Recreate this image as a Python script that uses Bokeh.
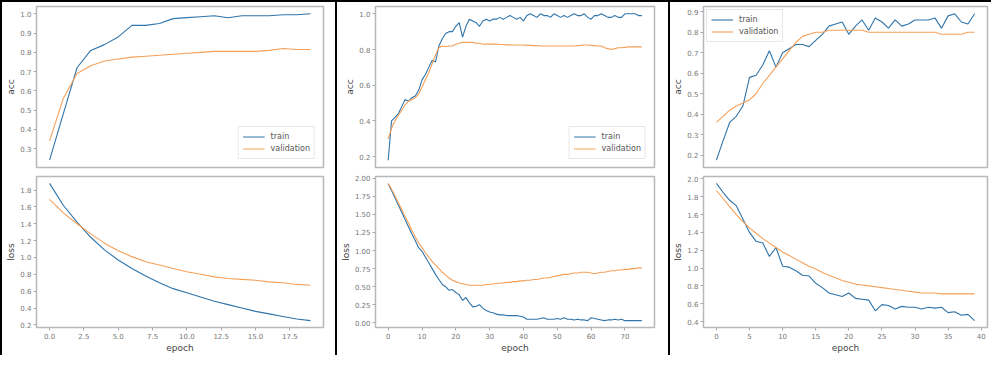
from bokeh.plotting import figure
from bokeh.layouts import row, column
from bokeh.models import Div, Range1d, FixedTicker, PrintfTickFormatter
from bokeh.embed import file_html
from bokeh.resources import INLINE

# ---------------- data ----------------
# run 1 (20 epochs)
acc1_train = [0.24, 0.48, 0.72, 0.81, 0.84, 0.88, 0.94, 0.94, 0.95, 0.975, 0.98, 0.985,
              0.99, 0.98, 0.99, 0.99, 0.99, 0.995, 0.995, 1.0]
acc1_val = [0.34, 0.56, 0.69, 0.73, 0.755, 0.765, 0.775, 0.78, 0.785, 0.79, 0.795, 0.80,
            0.805, 0.805, 0.805, 0.805, 0.81, 0.82, 0.815, 0.815]
loss1_train = [1.88, 1.62, 1.42, 1.24, 1.09, 0.97, 0.87, 0.78, 0.70, 0.63, 0.58, 0.53,
               0.48, 0.44, 0.40, 0.36, 0.33, 0.30, 0.27, 0.25]
loss1_val = [1.69, 1.53, 1.40, 1.28, 1.17, 1.08, 1.01, 0.95, 0.91, 0.87, 0.83, 0.80,
             0.77, 0.75, 0.74, 0.73, 0.71, 0.70, 0.68, 0.67]

# run 2 (76 epochs)
acc2_train = [0.18, 0.40, 0.42, 0.44, 0.48, 0.52, 0.51, 0.53, 0.54, 0.57, 0.63, 0.66,
              0.70, 0.74, 0.73, 0.82, 0.86, 0.89, 0.90, 0.90, 0.93, 0.95, 0.87, 0.93,
              0.97, 0.96, 0.95, 0.93, 0.96, 0.97, 0.96, 0.97, 0.97, 0.98, 0.97, 0.98,
              0.99, 0.98, 0.97, 0.98, 0.96, 0.99, 1.00, 0.99, 0.98, 1.00, 0.99, 0.99,
              0.98, 1.00, 0.99, 0.98, 0.99, 0.98, 0.99, 1.00, 0.99, 0.99, 1.00, 0.98,
              0.97, 0.99, 0.99, 1.00, 0.99, 0.98, 0.98, 0.99, 0.98, 0.98, 1.00, 1.00,
              1.00, 1.00, 0.99, 0.99]
acc2_val = [0.30, 0.36, 0.40, 0.43, 0.46, 0.49, 0.51, 0.52, 0.53, 0.55, 0.59, 0.63,
            0.67, 0.72, 0.77, 0.81, 0.82, 0.815, 0.82, 0.82, 0.83, 0.835, 0.84, 0.84,
            0.84, 0.84, 0.835, 0.835, 0.83, 0.83, 0.83, 0.83, 0.83, 0.828, 0.828, 0.826,
            0.826, 0.825, 0.825, 0.825, 0.825, 0.823, 0.823, 0.822, 0.822, 0.82, 0.82, 0.82,
            0.82, 0.82, 0.82, 0.82, 0.82, 0.82, 0.82, 0.82, 0.822, 0.823, 0.825, 0.825,
            0.823, 0.822, 0.82, 0.82, 0.81, 0.805, 0.80, 0.805, 0.81, 0.81, 0.812, 0.815,
            0.815, 0.815, 0.815, 0.815]
loss2_train = [1.92, 1.83, 1.73, 1.63, 1.53, 1.43, 1.33, 1.23, 1.14, 1.04, 0.99, 0.91,
               0.83, 0.75, 0.67, 0.60, 0.53, 0.50, 0.45, 0.46, 0.42, 0.39, 0.31, 0.35,
               0.28, 0.22, 0.23, 0.25, 0.20, 0.17, 0.15, 0.14, 0.12, 0.11, 0.11, 0.10,
               0.10, 0.10, 0.10, 0.09, 0.08, 0.05, 0.05, 0.05, 0.05, 0.06, 0.07, 0.05,
               0.05, 0.05, 0.06, 0.05, 0.07, 0.05, 0.05, 0.04, 0.05, 0.04, 0.04, 0.03,
               0.07, 0.06, 0.05, 0.04, 0.03, 0.04, 0.04, 0.05, 0.04, 0.05, 0.03, 0.03,
               0.03, 0.03, 0.03, 0.03]
loss2_val = [1.93, 1.85, 1.76, 1.66, 1.57, 1.47, 1.38, 1.28, 1.19, 1.11, 1.04, 0.97,
             0.91, 0.85, 0.80, 0.75, 0.70, 0.66, 0.62, 0.59, 0.57, 0.55, 0.54, 0.53,
             0.52, 0.52, 0.52, 0.52, 0.52, 0.53, 0.53, 0.54, 0.54, 0.55, 0.55, 0.56,
             0.56, 0.57, 0.57, 0.58, 0.58, 0.59, 0.59, 0.60, 0.60, 0.61, 0.62, 0.62,
             0.63, 0.64, 0.65, 0.66, 0.67, 0.67, 0.68, 0.69, 0.69, 0.70, 0.70, 0.70,
             0.69, 0.68, 0.69, 0.70, 0.70, 0.71, 0.72, 0.72, 0.73, 0.73, 0.74, 0.74,
             0.75, 0.75, 0.76, 0.76]

# run 3 (40 epochs)
acc3_train = [0.176, 0.27, 0.36, 0.39, 0.44, 0.58, 0.59, 0.64, 0.71, 0.63, 0.70, 0.72,
              0.74, 0.74, 0.73, 0.76, 0.79, 0.83, 0.84, 0.85, 0.79, 0.83, 0.86, 0.81,
              0.87, 0.85, 0.82, 0.86, 0.83, 0.84, 0.86, 0.86, 0.86, 0.87, 0.82, 0.88,
              0.89, 0.85, 0.84, 0.89]
acc3_val = [0.36, 0.39, 0.42, 0.44, 0.455, 0.47, 0.50, 0.55, 0.59, 0.63, 0.67, 0.71,
            0.75, 0.78, 0.79, 0.80, 0.80, 0.81, 0.81, 0.81, 0.81, 0.81, 0.81, 0.80,
            0.80, 0.80, 0.80, 0.80, 0.80, 0.80, 0.80, 0.80, 0.80, 0.80, 0.79, 0.79,
            0.79, 0.79, 0.80, 0.80]
loss3_train = [1.95, 1.85, 1.76, 1.70, 1.55, 1.40, 1.30, 1.28, 1.13, 1.23, 1.02, 1.01,
               0.97, 0.92, 0.91, 0.83, 0.78, 0.72, 0.70, 0.68, 0.72, 0.66, 0.65, 0.64,
               0.52, 0.59, 0.58, 0.54, 0.57, 0.56, 0.56, 0.54, 0.56, 0.55, 0.56, 0.50,
               0.51, 0.47, 0.48, 0.41]
loss3_val = [1.87, 1.78, 1.69, 1.60, 1.52, 1.45, 1.39, 1.33, 1.28, 1.23, 1.18, 1.14,
             1.10, 1.06, 1.02, 0.99, 0.95, 0.92, 0.89, 0.86, 0.84, 0.82, 0.81, 0.80,
             0.79, 0.78, 0.77, 0.76, 0.75, 0.74, 0.73, 0.72, 0.72, 0.72, 0.71, 0.71,
             0.71, 0.71, 0.71, 0.71]

acc1_yticks = [0.2, 0.3, 0.4, 0.5, 0.6, 0.7, 0.8, 0.9, 1.0]
loss1_yticks = [0.2, 0.4, 0.6, 0.8, 1.0, 1.2, 1.4, 1.6, 1.8]
x1_ticks = [0, 2.5, 5, 7.5, 10, 12.5, 15, 17.5]
acc2_yticks = [0.2, 0.4, 0.6, 0.8, 1.0]
loss2_yticks = [0.0, 0.25, 0.5, 0.75, 1.0, 1.25, 1.5, 1.75, 2.0]
x2_ticks = [0, 10, 20, 30, 40, 50, 60, 70]
acc3_yticks = [0.2, 0.3, 0.4, 0.5, 0.6, 0.7, 0.8, 0.9]
loss3_yticks = [0.4, 0.6, 0.8, 1.0, 1.2, 1.4, 1.6, 1.8, 2.0]
x3_ticks = [0, 5, 10, 15, 20, 25, 30, 35, 40]

series_names = ["train", "validation"]

# ---------------- styling ----------------
BLUE = "#2f74aa"
ORANGE = "#f5a05a"
FONT = "DejaVu Sans"
FRAME = "#b8b8b8"


def make_fig(w, h, tr, va, xticks, xfmt, yticks, yfmt, ylabel, show_xlabels,
             left, right, top, bottom, legend_loc=None, legend_margin=8):
    n = len(tr)
    xs = list(range(n))
    lo = min(min(tr), min(va))
    hi = max(max(tr), max(va))
    pad = 0.05 * (hi - lo)
    p = figure(width=w, height=h, output_backend="svg", toolbar_location=None,
               x_range=Range1d(-0.05 * (n - 1), 1.05 * (n - 1)),
               y_range=Range1d(lo - pad, hi + pad),
               min_border_left=left, min_border_right=right,
               min_border_top=top, min_border_bottom=bottom)
    p.grid.visible = False
    p.outline_line_color = FRAME
    p.outline_line_width = 1.5
    p.background_fill_color = "white"
    p.border_fill_color = "white"

    p.line(xs, tr, color=BLUE, line_width=1.1, legend_label=series_names[0])
    p.line(xs, va, color=ORANGE, line_width=1.1, legend_label=series_names[1])

    for ax in (p.xaxis[0], p.yaxis[0]):
        ax.axis_line_color = None
        ax.major_tick_line_color = "#aaaaaa"
        ax.major_tick_out = 3
        ax.major_tick_in = 0
        ax.minor_tick_line_color = None
        ax.major_label_text_font = FONT
        ax.major_label_text_font_size = "7px"
        ax.major_label_text_color = "#777777"
        ax.major_label_standoff = 2
        ax.axis_label_text_font = FONT
        ax.axis_label_text_font_size = "9px"
        ax.axis_label_text_font_style = "normal"
        ax.axis_label_text_color = "#444444"
        ax.axis_label_standoff = 1

    p.xaxis.ticker = FixedTicker(ticks=xticks, minor_ticks=[])
    p.xaxis.formatter = PrintfTickFormatter(format=xfmt)
    p.yaxis.ticker = FixedTicker(ticks=yticks, minor_ticks=[])
    p.yaxis.formatter = PrintfTickFormatter(format=yfmt)
    p.yaxis.axis_label = ylabel
    if show_xlabels:
        p.xaxis.axis_label = "epoch"
    else:
        p.xaxis.visible = False

    lg = p.legend[0]
    if legend_loc is None:
        lg.visible = False
    else:
        lg.location = legend_loc
        lg.margin = legend_margin
        lg.padding = 4
        lg.spacing = 1
        lg.label_text_font = FONT
        lg.label_text_font_size = "8px"
        lg.label_text_color = "#555555"
        lg.label_height = 11
        lg.glyph_height = 11
        lg.glyph_width = 22
        lg.label_standoff = 6
        lg.border_line_color = "#d0d0d0"
        lg.background_fill_alpha = 0.8
    return p


ACC_H = 171
LOSS_H = 182

a1 = make_fig(333, ACC_H, acc1_train, acc1_val, x1_ticks, "%.1f", acc1_yticks, "%.1f", "acc",
              False, 34, 12, 4, 6, "bottom_right", 8)
l1 = make_fig(333, LOSS_H, loss1_train, loss1_val, x1_ticks, "%.1f", loss1_yticks, "%.1f", "loss",
              True, 34, 12, 3, 20)
a2 = make_fig(331, ACC_H, acc2_train, acc2_val, x2_ticks, "%d", acc2_yticks, "%.1f", "acc",
              False, 35, 14, 4, 6, "bottom_right", 8)
l2 = make_fig(331, LOSS_H, loss2_train, loss2_val, x2_ticks, "%d", loss2_yticks, "%.2f", "loss",
              True, 35, 14, 3, 20)
a3 = make_fig(321, ACC_H, acc3_train, acc3_val, x3_ticks, "%d", acc3_yticks, "%.1f", "acc",
              False, 33, 4, 4, 6, "top_left", 3)
l3 = make_fig(321, LOSS_H, loss3_train, loss3_val, x3_ticks, "%d", loss3_yticks, "%.1f", "loss",
              True, 33, 4, 3, 20)


def black(w, h):
    return Div(text="", width=w, height=h, margin=0,
               styles={"background-color": "black"})


H = ACC_H + LOSS_H
body = row(black(2, H), column(a1, l1), black(2, H), column(a2, l2),
           black(2, H), column(a3, l3))
layout = column(black(991, 2), body)

open("out.html", "w").write(file_html(layout, INLINE))
